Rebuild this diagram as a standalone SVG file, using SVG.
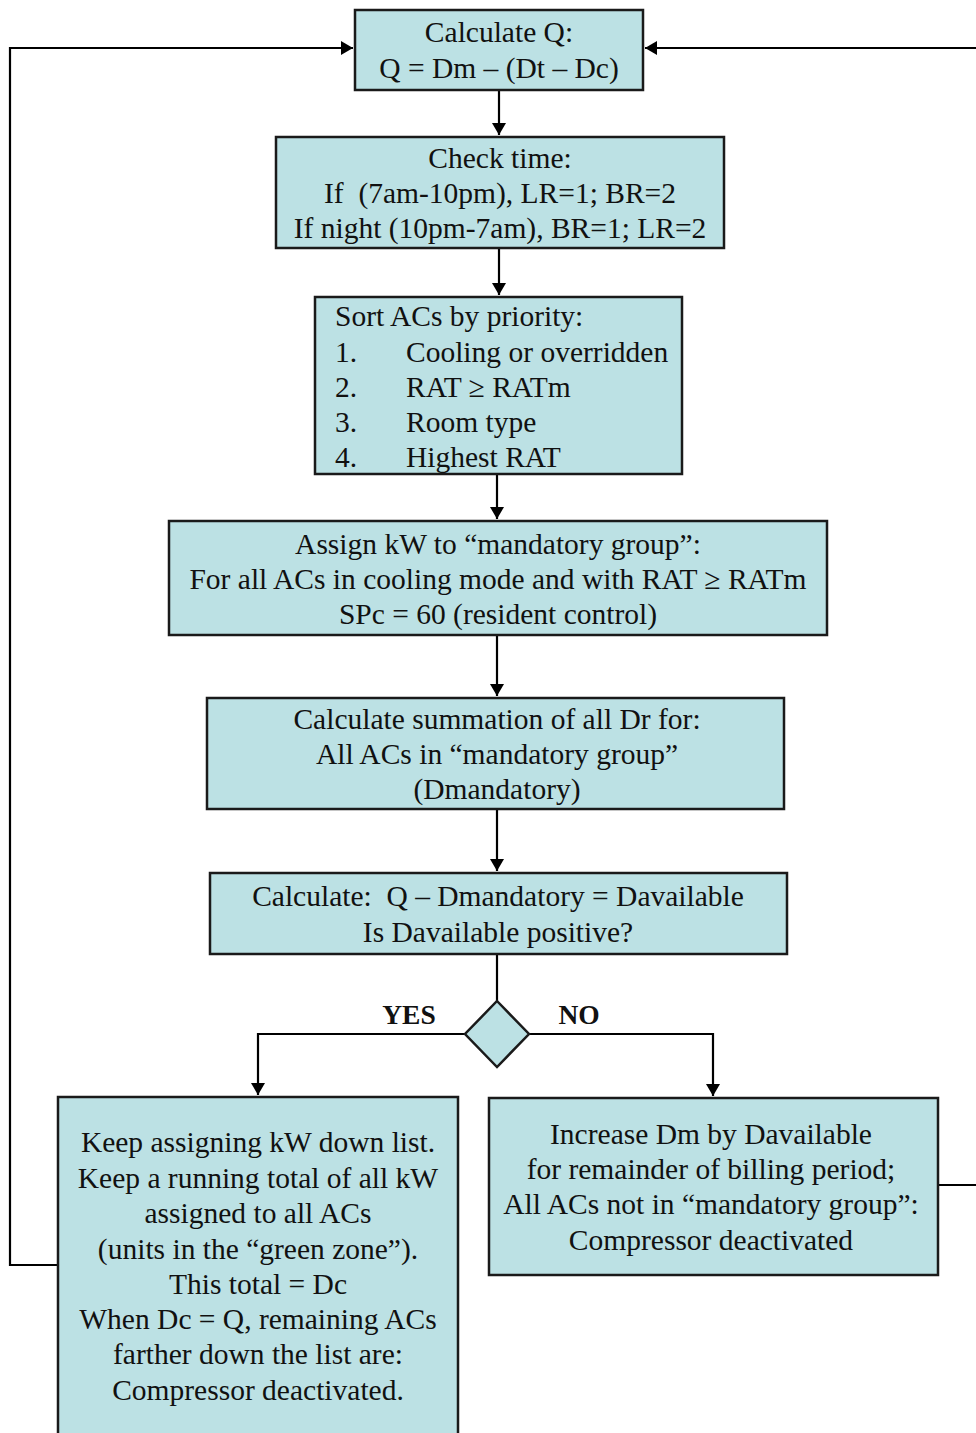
<svg xmlns="http://www.w3.org/2000/svg" width="976" height="1433" viewBox="0 0 976 1433">
<style>
.box{fill:#bce1e4;stroke:#1a1a1a;stroke-width:2.5}
.t{font-family:"Liberation Serif","Times New Roman",serif;font-size:29.5px;fill:#111;text-anchor:middle}
.l{font-family:"Liberation Serif","Times New Roman",serif;font-size:29.5px;fill:#111}
.b{font-family:"Liberation Serif","Times New Roman",serif;font-size:27.5px;font-weight:bold;fill:#111;text-anchor:middle}
.c{fill:none;stroke:#000;stroke-width:2.2}
</style>
<defs>
<marker id="ah" viewBox="0 0 12 14" refX="12" refY="7" markerWidth="12" markerHeight="14" markerUnits="userSpaceOnUse" orient="auto">
<path d="M0,0 L12,7 L0,14 Z" fill="#000"/>
</marker>
</defs>
<rect width="976" height="1433" fill="#fff"/>
<g id="connectors">
<line class="c" x1="499" y1="90" x2="499" y2="135" marker-end="url(#ah)"/>
<line class="c" x1="499" y1="248" x2="499" y2="295" marker-end="url(#ah)"/>
<line class="c" x1="497" y1="474" x2="497" y2="519" marker-end="url(#ah)"/>
<line class="c" x1="497" y1="635" x2="497" y2="696" marker-end="url(#ah)"/>
<line class="c" x1="497" y1="809" x2="497" y2="871" marker-end="url(#ah)"/>
<line class="c" x1="497" y1="954" x2="497" y2="1001"/>
<polyline class="c" points="465,1034 258,1034 258,1095" marker-end="url(#ah)"/>
<polyline class="c" points="529,1034 713,1034 713,1096" marker-end="url(#ah)"/>
<polyline class="c" points="58,1265 10,1265 10,48 353,48" marker-end="url(#ah)"/>
<polyline class="c" points="938,1185 978,1185"/>
<line class="c" x1="978" y1="48" x2="645" y2="48" marker-end="url(#ah)"/>
</g>
<g id="n1">
<rect class="box" x="355" y="10" width="288" height="80"/>
<text class="t" x="499" y="42">Calculate Q:</text>
<text class="t" x="499" y="78">Q = Dm – (Dt – Dc)</text>
</g>
<g id="n2">
<rect class="box" x="276" y="137" width="448" height="111"/>
<text class="t" x="500" y="168">Check time:</text>
<text class="t" x="500" y="203">If &#160;(7am-10pm), LR=1; BR=2</text>
<text class="t" x="500" y="238">If night (10pm-7am), BR=1; LR=2</text>
</g>
<g id="n3">
<rect class="box" x="315" y="297" width="367" height="177"/>
<text class="l" x="335" y="326">Sort ACs by priority:</text>
<text class="l" x="335" y="362">1.</text><text class="l" x="406" y="362">Cooling or overridden</text>
<text class="l" x="335" y="397">2.</text><text class="l" x="406" y="397">RAT ≥ RATm</text>
<text class="l" x="335" y="432">3.</text><text class="l" x="406" y="432">Room type</text>
<text class="l" x="335" y="467">4.</text><text class="l" x="406" y="467">Highest RAT</text>
</g>
<g id="n4">
<rect class="box" x="169" y="521" width="658" height="114"/>
<text class="t" x="498" y="554">Assign kW to “mandatory group”:</text>
<text class="t" x="498" y="589">For all ACs in cooling mode and with RAT ≥ RATm</text>
<text class="t" x="498" y="624">SPc = 60 (resident control)</text>
</g>
<g id="n5">
<rect class="box" x="207" y="698" width="577" height="111"/>
<text class="t" x="497" y="729">Calculate summation of all Dr for:</text>
<text class="t" x="497" y="764">All ACs in “mandatory group”</text>
<text class="t" x="497" y="799">(Dmandatory)</text>
</g>
<g id="n6">
<rect class="box" x="210" y="873" width="577" height="81"/>
<text class="t" x="498" y="906">Calculate: &#160;Q – Dmandatory = Davailable</text>
<text class="t" x="498" y="942">Is Davailable positive?</text>
</g>
<g id="n7">
<polygon class="box" points="497,1001 529,1034 497,1067 465,1034"/>
<text class="b" x="409" y="1024">YES</text>
<text class="b" x="579" y="1024">NO</text>
</g>
<g id="n8">
<rect class="box" x="58" y="1097" width="400" height="345"/>
<text class="t" x="258" y="1152">Keep assigning kW down list.</text>
<text class="t" x="258" y="1188">Keep a running total of all kW</text>
<text class="t" x="258" y="1223">assigned to all ACs</text>
<text class="t" x="258" y="1259">(units in the “green zone”).</text>
<text class="t" x="258" y="1294">This total = Dc</text>
<text class="t" x="258" y="1329">When Dc = Q, remaining ACs</text>
<text class="t" x="258" y="1364">farther down the list are:</text>
<text class="t" x="258" y="1400">Compressor deactivated.</text>
</g>
<g id="n9">
<rect class="box" x="489" y="1098" width="449" height="177"/>
<text class="t" x="711" y="1144">Increase Dm by Davailable</text>
<text class="t" x="711" y="1179">for remainder of billing period;</text>
<text class="t" x="711" y="1214">All ACs not in “mandatory group”:</text>
<text class="t" x="711" y="1250">Compressor deactivated</text>
</g>
</svg>
